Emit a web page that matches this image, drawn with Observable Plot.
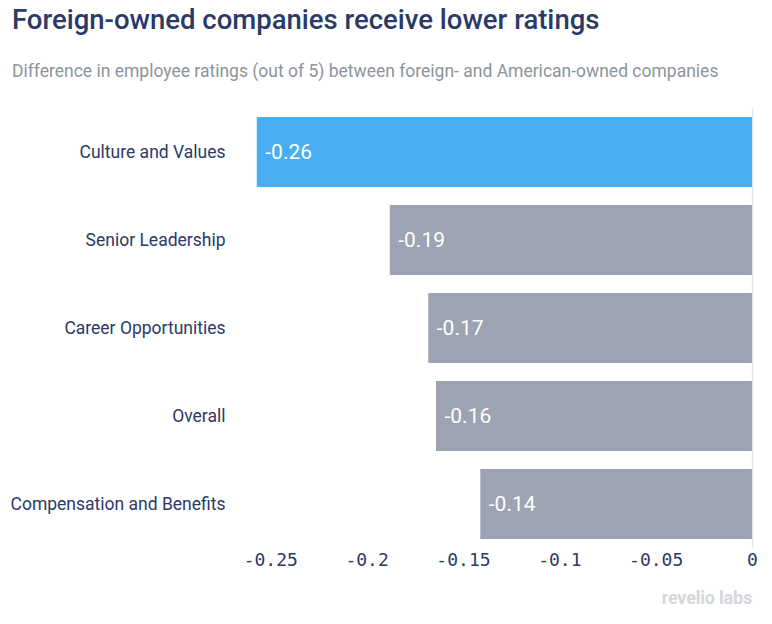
<!DOCTYPE html>
<html>
<head>
<meta charset="utf-8">
<script src="https://cdn.jsdelivr.net/npm/d3@7"></script>
<script src="https://cdn.jsdelivr.net/npm/@observablehq/plot@0.6"></script>
<style>
  body { margin: 0; background: #fff; font-family: Roboto, sans-serif; }
  #wrap { position: relative; width: 772px; height: 624px; }
  #title { position: absolute; left: 12px; top: 3px; font-size: 27.5px; font-weight: 500; color: #2b3a67; white-space: nowrap; }
  #subtitle { position: absolute; left: 12px; top: 61px; font-size: 17.5px; color: #8c949c; white-space: nowrap; }
  #chart { position: absolute; left: 0; top: 100px; }
  #caption { position: absolute; right: 20px; top: 587px; font-size: 18px; font-weight: 700; color: #d3d6db; letter-spacing: -0.2px; }
</style>
</head>
<body>
<div id="wrap">
  <div id="title">Foreign-owned companies receive lower ratings</div>
  <div id="subtitle">Difference in employee ratings (out of 5) between foreign- and American-owned companies</div>
  <div id="chart"></div>
  <div id="caption">revelio labs</div>
</div>
<script>
const categories = ["Culture and Values", "Senior Leadership", "Career Opportunities", "Overall", "Compensation and Benefits"];
const values = [-0.257, -0.188, -0.168, -0.164, -0.141];
const highlight = ["Culture and Values"];
const xTicks = [-0.25, -0.2, -0.15, -0.1, -0.05, 0];

const data = categories.map((c, i) => ({category: c, value: values[i]}));

const chart = Plot.plot({
  width: 772,
  height: 480,
  marginTop: 8,
  marginBottom: 32,
  marginLeft: 251,
  marginRight: 20,
  style: {color: "#2b3a67", fontFamily: "Roboto, sans-serif", background: "transparent"},
  x: {domain: [-0.26, 0], axis: null, label: null},
  y: {domain: categories, paddingInner: 0.2, paddingOuter: 0.1, axis: null, label: null},
  marks: [
    Plot.ruleX([0], {stroke: "#e4e6ea", strokeWidth: 1.5}),
    Plot.barX(data, {
      x1: "value", x2: 0, y: "category",
      fill: d => highlight.includes(d.category) ? "#48aef4" : "#9da3b2"
    }),
    Plot.text(data, {
      x: "value", y: "category",
      text: d => d.value.toFixed(2),
      textAnchor: "start", dx: 8, fill: "white", fontSize: 21, fontFamily: "Roboto, sans-serif"
    }),
    Plot.axisY({tickSize: 0, tickPadding: 26, fontSize: 17.5, fill: "#2b3a67", label: null}),
    Plot.axisX({
      ticks: xTicks, tickFormat: d => String(d), tickSize: 0, tickPadding: 5, label: null,
      fontSize: 18, fontFamily: "'DejaVu Sans Mono', monospace", fill: "#2b3a67"
    })
  ]
});
document.getElementById("chart").appendChild(chart);
</script>
</body>
</html>
